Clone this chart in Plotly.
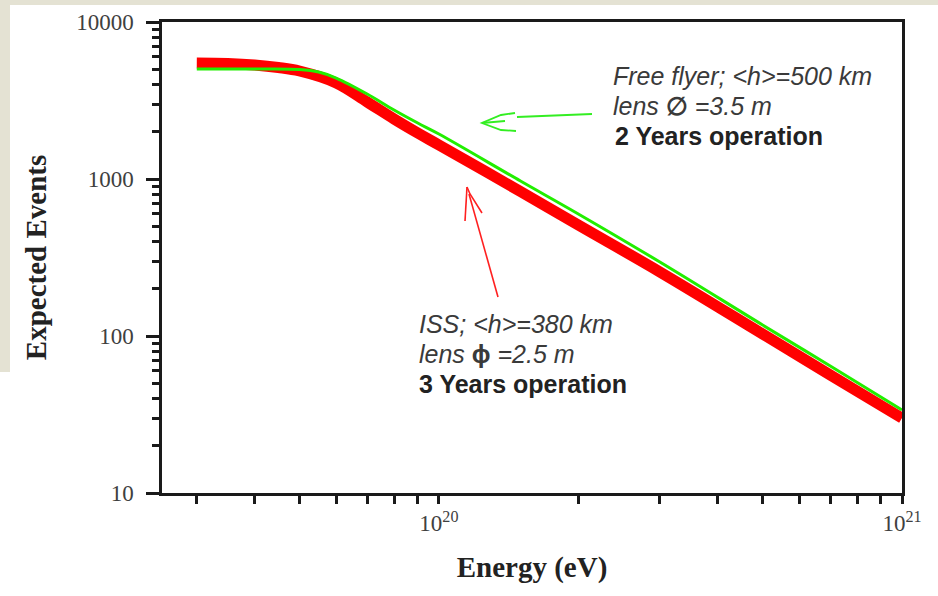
import plotly.graph_objects as go

# Expected event counts versus primary energy for two orbit configurations
iss_energy = [3.0e19, 3.5e19, 4.0e19, 4.5e19, 5.0e19, 6.0e19, 7.0e19, 8.0e19,
              9.0e19, 1.0e20, 1.5e20, 2.0e20, 3.0e20, 5.0e20, 7.0e20, 1.0e21]
iss_events = [5483, 5443, 5324, 5131, 4875, 4088, 3094, 2412,
              1963, 1647, 833, 509, 256, 103, 56.4, 30.0]

ff_energy = [3.0e19, 4.0e19, 5.0e19, 5.5e19, 6.0e19, 7.0e19, 8.0e19, 9.0e19,
             1.0e20, 1.5e20, 2.0e20, 3.0e20, 5.0e20, 7.0e20, 1.0e21]
ff_events = [5019, 5019, 4983, 4803, 4398, 3478, 2751, 2273,
             1934, 971, 599, 296, 117.5, 64.4, 33.8]

x_tick_vals = [1e20, 1e21]
x_tick_text = ["10<sup>20</sup>", "10<sup>21</sup>"]
x_minor_vals = [3e19, 4e19, 5e19, 6e19, 7e19, 8e19, 9e19,
                2e20, 3e20, 4e20, 5e20, 6e20, 7e20, 8e20, 9e20]
y_tick_vals = [10, 100, 1000, 10000]
y_tick_text = ["10", "100", "1000", "10000"]
y_minor_vals = [m * d for d in (10, 100, 1000) for m in range(2, 10)]

W, H = 938, 596
L, R, T, B = 162, 36, 22, 103
PW, PH = W - L - R, H - T - B


def px_x(px):
    return (px - L) / PW


def px_y(py):
    return (H - B - py) / PH


def path(points):
    return "M " + " L ".join(f"{px_x(a):.5f},{px_y(b):.5f}" for a, b in points)


fig = go.Figure()
fig.add_trace(go.Scatter(x=iss_energy, y=iss_events, mode="lines",
                         line=dict(color="#ff0000", width=11, shape="spline", smoothing=1.0),
                         name="ISS", showlegend=False))
fig.add_trace(go.Scatter(x=ff_energy, y=ff_events, mode="lines",
                         line=dict(color="#22ee00", width=3, shape="spline", smoothing=1.0),
                         name="Free flyer", showlegend=False))

axis_font = dict(family="Liberation Serif", size=23, color="#404040")
title_font = dict(family="Liberation Serif", size=29, color="#222222")
tick_style = dict(ticks="outside", tickwidth=2.5, tickcolor="#1a1a1a")

fig.update_xaxes(type="log", range=[19.402, 21.0],
                 showline=True, linewidth=2.5, linecolor="#1a1a1a", mirror=True,
                 ticklen=8, tickvals=x_tick_vals, ticktext=x_tick_text,
                 minor=dict(ticklen=8, tickvals=x_minor_vals, showgrid=False, **tick_style),
                 tickfont=axis_font, showgrid=False, zeroline=False,
                 title=dict(text="<b>Energy (eV)</b>", font=title_font, standoff=22),
                 **tick_style)
fig.update_yaxes(type="log", range=[1, 4],
                 showline=True, linewidth=2.5, linecolor="#1a1a1a", mirror=True,
                 ticklen=13, tickvals=y_tick_vals, ticktext=y_tick_text,
                 ticklabelstandoff=8,
                 minor=dict(ticklen=7, tickvals=y_minor_vals, showgrid=False, **tick_style),
                 tickfont=axis_font, showgrid=False, zeroline=False,
                 title=dict(text="<b>Expected Events</b>", font=title_font, standoff=22),
                 **tick_style)

note_italic = dict(family="Liberation Sans", size=25, color="#3a3a3a")
note_bold = dict(family="Liberation Sans", size=25, color="#222222")

notes = [
    ("<i>Free flyer; &lt;h&gt;=500 km</i>", 612, 76, note_italic),
    ("<i>lens </i><b>\u2205</b><i> =3.5 m</i>", 612, 106, note_italic),
    ("<b>2 Years operation</b>", 614, 136, note_bold),
    ("<i>ISS; &lt;h&gt;=380 km</i>", 418, 324, note_italic),
    ("<i>lens </i><b>\u03d5</b><i> =2.5 m</i>", 418, 354, note_italic),
    ("<b>3 Years operation</b>", 418, 384, note_bold),
]
for text, xp, yp, font in notes:
    fig.add_annotation(text=text, xref="paper", yref="paper",
                       x=px_x(xp), y=px_y(yp), xanchor="left", yanchor="middle",
                       showarrow=False, font=font, borderpad=0)

# hand-drawn pointer arrows from the labels to the curves
green_arrow = [
    [(592, 114), (517, 117)],
    [(515, 113), (501, 115), (482, 123), (501, 130), (516, 131)],
    [(505, 121), (482, 123)],
]
red_arrow = [
    [(498, 297), (469, 194)],
    [(467, 187), (465, 221)],
    [(467, 187), (470, 194), (482, 213)],
]
for segs, col, wid in ((green_arrow, "#33ee22", 1.8), (red_arrow, "#ff2020", 1.6)):
    for seg in segs:
        fig.add_shape(type="path", xref="paper", yref="paper", path=path(seg),
                      line=dict(color=col, width=wid))

# beige page border strips
fig.add_shape(type="rect", xref="paper", yref="paper",
              x0=px_x(0), x1=px_x(W), y0=px_y(5), y1=px_y(0),
              fillcolor="#e4e2d3", line=dict(width=0), layer="below")
fig.add_shape(type="rect", xref="paper", yref="paper",
              x0=px_x(0), x1=px_x(10), y0=px_y(372), y1=px_y(0),
              fillcolor="#e4e2d3", line=dict(width=0), layer="below")

fig.update_layout(width=W, height=H,
                  margin=dict(l=L, r=R, t=T, b=B, autoexpand=False),
                  paper_bgcolor="white", plot_bgcolor="white",
                  showlegend=False)

fig.write_html("out.html")
